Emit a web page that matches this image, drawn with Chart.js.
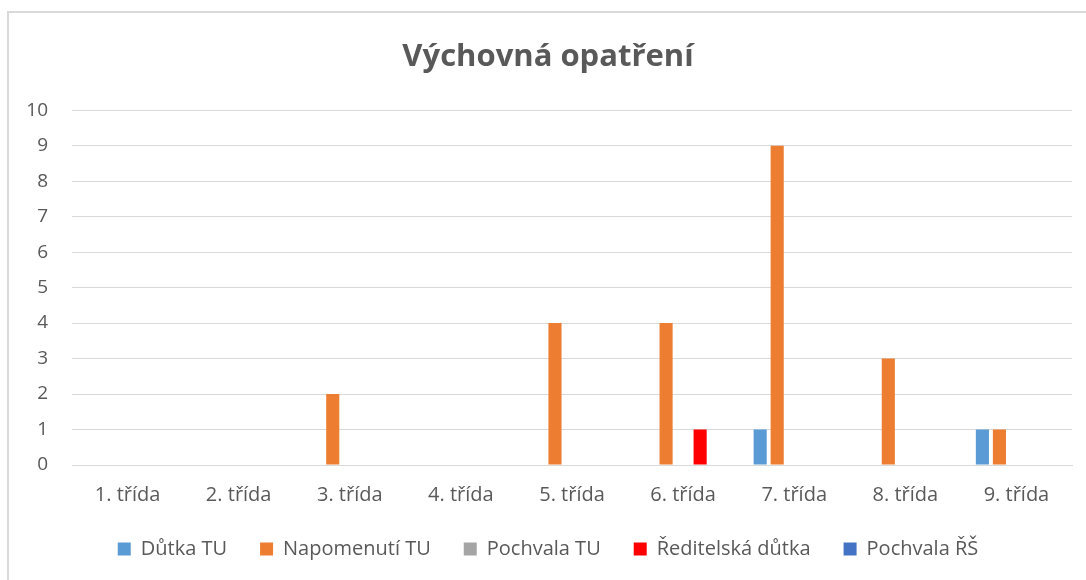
<!DOCTYPE html>
<html>
<head>
<meta charset="utf-8">
<script src="https://cdn.jsdelivr.net/npm/chart.js@4"></script>
<style>
    html, body { margin: 0; padding: 0; background: #fff; overflow: hidden; }
    #frame {
        position: absolute; left: 7px; top: 11px;
        width: 1100px; height: 600px;
        border-left: 2px solid #d9d9d9; border-top: 2px solid #d9d9d9;
    }
    #chart-opatreni { position: absolute; left: 0; top: 0; }
</style>
</head>
<body>
<div id="frame">
    <canvas id="chart-opatreni" width="1066" height="556"></canvas>
</div>
<script>
// Data Start
const tridy = ["1. třída", "2. třída", "3. třída", "4. třída", "5. třída", "6. třída", "7. třída", "8. třída", "9. třída"];
const dutka_tu = [0, 0, 0, 0, 0, 0, 1, 0, 1];
const napomenuti_tu = [0, 0, 2, 0, 4, 4, 9, 3, 1];
const pochvala_tu = [0, 0, 0, 0, 0, 0, 0, 0, 0];
const reditelska_dutka = [0, 0, 0, 0, 0, 1, 0, 0, 0];
const pochvala_rs = [0, 0, 0, 0, 0, 0, 0, 0, 0];
// Data End

const opatreni = document.getElementById("chart-opatreni");
const textColor = "#595959";
const gridColor = "#d9d9d9";
const fontName = "'Open Sans', sans-serif";

function serie(label, data, color) {
    return {
        label: label,
        data: data,
        backgroundColor: color,
        borderWidth: 0,
        categoryPercentage: 0.766,
        barPercentage: 0.77,
    };
}

// Chart Opatreni Bar Start
new Chart(opatreni, {
    type: "bar",
    data: {
        labels: tridy,
        datasets: [
            serie("Důtka TU", dutka_tu, "#5b9bd5"),
            serie("Napomenutí TU", napomenuti_tu, "#ed7d31"),
            serie("Pochvala TU", pochvala_tu, "#a5a5a5"),
            serie("Ředitelská důtka", reditelska_dutka, "#ff0000"),
            serie("Pochvala ŘŠ", pochvala_rs, "#4472c4"),
        ],
    },
    options: {
        responsive: false,
        animation: false,
        layout: {
            padding: { left: 15, right: 3, top: 0, bottom: 0 },
        },
        scales: {
            x: {
                afterFit: function (scale) {
                    scale.height -= 19;
                },
                grid: { display: false, drawTicks: false },
                border: { display: true, color: gridColor, width: 1 },
                ticks: {
                    color: textColor,
                    font: { family: fontName, size: 20 },
                    padding: 18,
                    maxRotation: 0,
                },
            },
            y: {
                min: 0,
                max: 10,
                beginAtZero: true,
                afterFit: function (scale) {
                    scale.width = 48;
                },
                grid: { color: gridColor, lineWidth: 1, drawTicks: false },
                border: { display: false },
                ticks: {
                    stepSize: 1,
                    color: textColor,
                    font: { family: fontName, size: 19 },
                    padding: 24,
                },
            },
        },
        plugins: {
            title: {
                display: true,
                text: "Výchovná opatření",
                color: textColor,
                font: { family: fontName, size: 31, weight: "bold" },
                padding: { top: 26, bottom: 34 },
            },
            legend: {
                position: "bottom",
                labels: {
                    color: textColor,
                    font: { family: fontName, size: 20 },
                    boxWidth: 13,
                    boxHeight: 13,
                    padding: 33,
                },
            },
            tooltip: { enabled: false },
        },
    },
});
// Chart Opatreni Bar End
</script>
</body>
</html>
